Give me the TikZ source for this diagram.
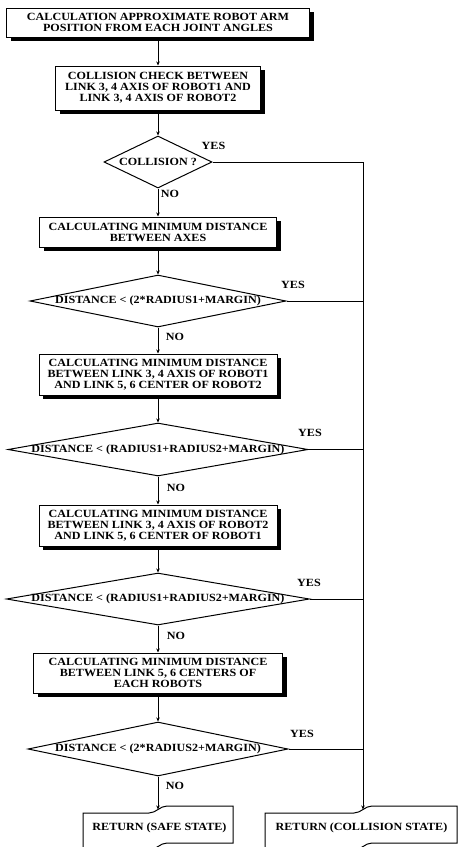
\documentclass[tikz,border=0pt]{standalone}
\usepackage{fontspec}
\setmainfont[FakeStretch=1.1]{Liberation Serif}
\usetikzlibrary{shapes.geometric,shadows,arrows.meta}
\begin{document}
\begin{tikzpicture}[x=1pt,y=-1pt,
  every node/.style={font=\bfseries\fontsize{11}{11}\selectfont},
  proc/.style={draw, fill=white, line width=1pt, align=center, inner sep=0pt,
    drop shadow={shadow xshift=4pt,shadow yshift=-4pt,fill=black,opacity=1}},
  dec/.style={draw, shape=diamond, line width=1pt, inner sep=0pt},
  lbl/.style={inner sep=0pt},
  term/.style={line width=1pt},
  flow/.style={line width=0.9pt, -{Stealth[length=4pt,width=3.5pt]}},
  link/.style={line width=0.9pt}]
\useasboundingbox (0,0) rectangle (459,847);
\clip (0,0) rectangle (459,847);
\fill[white] (0,0) rectangle (459,847);

\node[proc, minimum width=303pt, minimum height=29pt] (b1) at (158,22.5)
  {CALCULATION APPROXIMATE ROBOT ARM\\POSITION FROM EACH JOINT ANGLES};
\node[proc, minimum width=205pt, minimum height=44pt] (b2) at (158,88)
  {COLLISION CHECK BETWEEN\\LINK 3, 4 AXIS OF ROBOT1 AND\\LINK 3, 4 AXIS OF ROBOT2};
\node[dec, minimum width=108pt, minimum height=52pt] (d1) at (158,162) {};
\node[lbl] (t1) at (d1.center) {COLLISION ?};
\node[proc, minimum width=237pt, minimum height=30pt] (b3) at (158,232)
  {CALCULATING MINIMUM DISTANCE\\BETWEEN AXES};
\node[dec, minimum width=256pt, minimum height=52pt] (d2) at (158,301) {};
\node[lbl] (t2) at (d2.center) {DISTANCE < (2*RADIUS1+MARGIN)};
\node[proc, minimum width=238pt, minimum height=41pt] (b4) at (158,374.5)
  {CALCULATING MINIMUM DISTANCE\\BETWEEN LINK 3, 4 AXIS OF ROBOT1\\AND LINK 5, 6 CENTER OF ROBOT2};
\node[dec, minimum width=300pt, minimum height=53pt] (d3) at (158,449.5) {};
\node[lbl] (t3) at (d3.center) {DISTANCE < (RADIUS1+RADIUS2+MARGIN)};
\node[proc, minimum width=238pt, minimum height=41pt] (b5) at (158,525.5)
  {CALCULATING MINIMUM DISTANCE\\BETWEEN LINK 3, 4 AXIS OF ROBOT2\\AND LINK 5, 6 CENTER OF ROBOT1};
\node[dec, minimum width=303pt, minimum height=52pt] (d4) at (158,599) {};
\node[lbl] (t4) at (d4.center) {DISTANCE < (RADIUS1+RADIUS2+MARGIN)};
\node[proc, minimum width=249pt, minimum height=40pt] (b6) at (158,673)
  {CALCULATING MINIMUM DISTANCE\\BETWEEN LINK 5, 6 CENTERS OF\\EACH ROBOTS};
\node[dec, minimum width=260pt, minimum height=54pt] (d5) at (158,749) {};
\node[lbl] (t5) at (d5.center) {DISTANCE < (2*RADIUS2+MARGIN)};

% terminal shapes
\draw[term] (83,852) -- (83,813) -- (149,813) .. controls (156,813) and (160,806) .. (167,806)
  -- (233,806) -- (233,843) -- (167,843) .. controls (160,843) and (156,850) .. (149,850) -- (83,850) -- (83,852);
\node[lbl] (rs) at (159.5,828) {RETURN (SAFE STATE)};
\coordinate (se) at (158,809.5);
\draw[term] (265,852) -- (265,813) -- (354,813) .. controls (361,813) and (365,806) .. (372,806)
  -- (457,806) -- (457,843) -- (372,843) .. controls (365,843) and (361,850) .. (354,850) -- (265,850) -- (265,852);
\node[lbl] (rc) at (361.5,828) {RETURN (COLLISION STATE)};
\coordinate (ce) at (363,809.5);

% main flow
\draw[flow] (b1) -- (b2);
\draw[flow] (b2) -- (d1);
\draw[flow] (d1) -- (b3);
\draw[flow] (b3) -- (d2);
\draw[flow] (d2) -- (b4);
\draw[flow] (b4) -- (d3);
\draw[flow] (d3) -- (b5);
\draw[flow] (b5) -- (d4);
\draw[flow] (d4) -- (b6);
\draw[flow] (b6) -- (d5);
\draw[flow] (d5) -- (se);

% yes branch
\draw[flow] (d1.east) -| (ce);
\draw[link] (d2.east) -- (d2.east -| ce);
\draw[link] (d3.east) -- (d3.east -| ce);
\draw[link] (d4.east) -- (d4.east -| ce);
\draw[link] (d5.east) -- (d5.east -| ce);

% labels
\node[lbl] (y1) at (213.5,146) {YES};
\node[lbl] (y2) at (293,285) {YES};
\node[lbl] (y3) at (310,433) {YES};
\node[lbl] (y4) at (309,583) {YES};
\node[lbl] (y5) at (302,734) {YES};
\node[lbl] (n1) at (170,194) {NO};
\node[lbl] (n2) at (175,337) {NO};
\node[lbl] (n3) at (176,488) {NO};
\node[lbl] (n4) at (176,636) {NO};
\node[lbl] (n5) at (175,786) {NO};
\end{tikzpicture}
\end{document}
